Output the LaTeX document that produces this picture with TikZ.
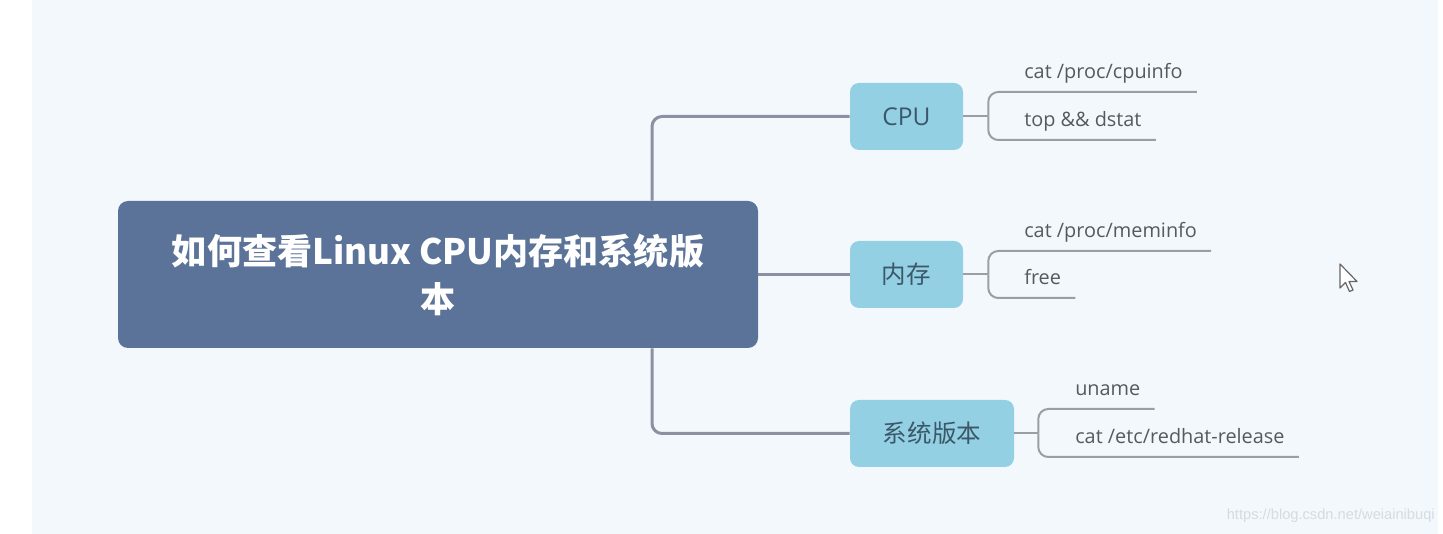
\documentclass[tikz,border=0pt]{standalone}
\usepackage{fontspec}
\setmainfont{Open Sans}
\newfontfamily\cjk{Noto Sans CJK SC}
\newfontfamily\wmfont{Liberation Sans}
\definecolor{panelbg}{HTML}{F3F8FD}
\definecolor{rootfill}{HTML}{5B7398}
\definecolor{topicfill}{HTML}{94D0E3}
\definecolor{topictext}{HTML}{3B5869}
\definecolor{trunkline}{HTML}{8C90A2}
\definecolor{leafline}{HTML}{9C9EA6}
\definecolor{leaftext}{HTML}{555A60}
\definecolor{markgray}{HTML}{D6DBE2}
\tikzset{
  roottopic/.style={fill=rootfill, rounded corners=7.5pt, minimum width=480pt, minimum height=110.25pt,
    align=center, text=white, font=\cjk\bfseries\fontsize{26.3}{36}\selectfont},
  subtopic/.style={fill=topicfill, rounded corners=6.75pt, minimum width=84.75pt, minimum height=50.25pt,
    text=topictext, font=\fontsize{18.4}{22}\selectfont},
  leaf/.style={text=leaftext, font=\fontsize{14.9}{18}\selectfont, inner xsep=10.5pt, inner ysep=6pt,
    text height=11pt, text depth=4pt, anchor=south west},
  trunk/.style={draw=trunkline, line width=2.25pt, rounded corners=7.5pt},
  twig/.style={draw=leafline, line width=1.5pt, rounded corners=7.5pt},
}
\begin{document}
\begin{tikzpicture}[x=0.75pt,y=0.75pt,yscale=-1]
	\useasboundingbox (0,0) rectangle (1443,534);
	\fill[white] (0,0) rectangle (1443,534);
	%Panel
	\fill[panelbg] (32,0) rectangle (1438,534);
	%Topics
	\node[roottopic] (root) at (438,274.5) {如何查看Linux CPU内存和系统版\\本};
	\node[subtopic] (cpu) at (906.5,116.5) {CPU};
	\node[subtopic] (mem) at (906.5,274.5) {\cjk 内存};
	\node[subtopic, minimum width=123pt] (sys) at (932,433.5) {\cjk 系统版本};
	%Leaves
	\node[leaf] (cpu1) at (1010,92) {cat /proc/cpuinfo};
	\node[leaf] (cpu2) at (1010,140) {top \&\& dstat};
	\node[leaf] (mem1) at (1010,251) {cat /proc/meminfo};
	\node[leaf] (mem2) at (1010,298) {free};
	\node[leaf] (sys1) at (1061,409) {uname};
	\node[leaf] (sys2) at (1061,457) {cat /etc/redhat-release};
	%Trunk
	\coordinate (fork) at (652,274.5);
	\draw[trunk] (fork |- root.north) |- (cpu.west);
	\draw[trunk] (fork |- root.south) |- (sys.west);
	\draw[trunk] (root.east) -- (mem.west);
	%Twigs
	\draw[twig] (cpu.east) -- ++(25,0) coordinate (cpuf);
	\draw[twig] (cpuf) |- (cpu1.south east);
	\draw[twig] (cpuf) |- (cpu2.south east);
	\draw[twig] (mem.east) -- ++(25,0) coordinate (memf);
	\draw[twig] (memf) |- (mem1.south east);
	\draw[twig] (memf) |- (mem2.south east);
	\draw[twig] (sys.east) -- ++(24,0) coordinate (sysf);
	\draw[twig] (sysf) |- (sys1.south east);
	\draw[twig] (sysf) |- (sys2.south east);
	%Cursor
	\draw[draw=gray!80!black, fill=white, line width=0.9pt, line join=round]
		(1340,264) -- ++(0,24) -- ++(5.5,-5.5) -- ++(4,9) -- ++(3.5,-1.5) -- ++(-4,-8.5) -- ++(8,0) -- cycle;
	%Watermark
	\node[font=\wmfont\fontsize{11}{13}\selectfont, text=markgray, anchor=east, inner sep=0pt] (mark) at (1435,516) {https://blog.csdn.net/weiainibuqi};
\end{tikzpicture}
\end{document}
